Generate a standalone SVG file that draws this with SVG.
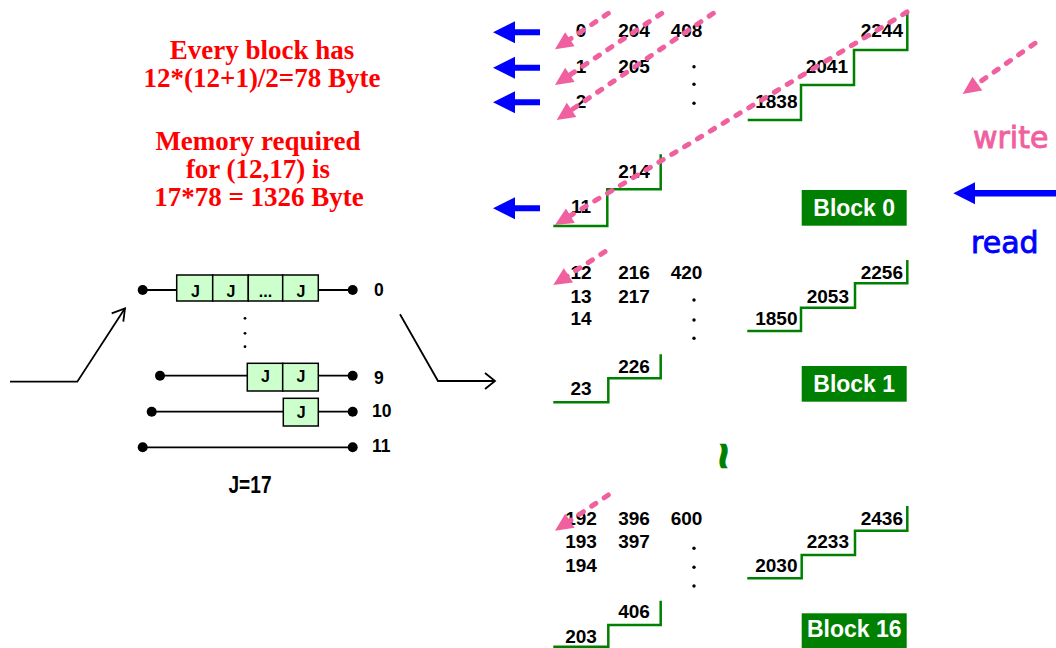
<svg xmlns="http://www.w3.org/2000/svg" width="1056" height="648" viewBox="0 0 1056 648">
<defs>
<style>
.red{font-family:"Liberation Serif","Times New Roman",serif;font-weight:bold;font-size:27px;fill:#FF0000;text-anchor:middle}
.num{font-family:"Liberation Sans",Arial,sans-serif;font-weight:bold;font-size:19px;fill:#000}
.c{text-anchor:middle}
.e{text-anchor:end}
.stair{fill:none;stroke:#008000;stroke-width:2.5}
.blk{fill:#008000}
.blkt{font-family:"Liberation Sans",Arial,sans-serif;font-weight:bold;font-size:23px;fill:#FFFFFF;text-anchor:middle}
.wr{fill:none;stroke:#F0609E;stroke-width:5;stroke-dasharray:5 10;stroke-linecap:round;marker-end:url(#wh)}
.box{fill:#CCFFCC;stroke:#000;stroke-width:1.5}
.wire{stroke:#000;stroke-width:1.8;fill:none}
.jt{font-family:"Liberation Sans",Arial,sans-serif;font-weight:bold;font-size:16px;text-anchor:middle}
.lbl{font-family:"Liberation Sans",Arial,sans-serif;font-weight:bold;font-size:17.5px}
.leg{font-family:"DejaVu Sans",Verdana,sans-serif;font-size:30px;stroke-width:0.9}
</style>
<marker id="wh" markerUnits="userSpaceOnUse" markerWidth="22" markerHeight="20" viewBox="-12 -10 22 20" refX="0" refY="0" orient="auto">
<path d="M8,0 L-10,-8.5 L-10,8.5 z" fill="#F0609E"/>
</marker>
<path id="ba" d="M0,0 L22,-11 L22,-3 L47,-3 L47,3 L22,3 L22,11 z" fill="#0000FF"/>
</defs>
<rect width="1056" height="648" fill="#FFFFFF"/>

<g id="info-text">
<text class="red" x="262" y="59">Every block has</text>
<text class="red" x="262" y="87">12*(12+1)/2=78 Byte</text>
<text class="red" x="258" y="150">Memory required</text>
<text class="red" x="258" y="178">for (12,17) is</text>
<text class="red" x="259" y="206">17*78 = 1326 Byte</text>
</g>

<g id="delay-lines">
<g id="line-0">
<line class="wire" x1="142.7" y1="290" x2="352.7" y2="290"/>
<rect class="box" x="176.7" y="275" width="36" height="26"/>
<rect class="box" x="212.7" y="275" width="35.6" height="26"/>
<rect class="box" x="248.3" y="275" width="34.4" height="26"/>
<rect class="box" x="282.7" y="275" width="35.6" height="26"/>
<text class="jt" x="195.5" y="296.5">J</text>
<text class="jt" x="231" y="296.5">J</text>
<text class="jt" x="265.5" y="296.5">...</text>
<text class="jt" x="301" y="296.5">J</text>
<circle cx="142.7" cy="290" r="5"/>
<circle cx="352.7" cy="290" r="5"/>
<text class="lbl" x="374" y="295.8">0</text>
</g>
<g id="vdots">
<circle cx="245" cy="318.3" r="1.4"/>
<circle cx="245" cy="333.3" r="1.4"/>
<circle cx="245" cy="346.7" r="1.4"/>
</g>
<g id="line-9">
<line class="wire" x1="160" y1="375.7" x2="352.7" y2="375.7"/>
<rect class="box" x="247.3" y="363.3" width="35.4" height="27.7"/>
<rect class="box" x="282.7" y="363.3" width="35.6" height="27.7"/>
<text class="jt" x="265.5" y="382.3">J</text>
<text class="jt" x="301" y="382.3">J</text>
<circle cx="160" cy="375.7" r="5"/>
<circle cx="352.7" cy="375.7" r="5"/>
<text class="lbl" x="374" y="383.5">9</text>
</g>
<g id="line-10">
<line class="wire" x1="151.7" y1="411.7" x2="352.7" y2="411.7"/>
<rect class="box" x="283.3" y="398.3" width="35" height="27.7"/>
<text class="jt" x="301.3" y="418.3">J</text>
<circle cx="151.7" cy="411.7" r="5"/>
<circle cx="352.7" cy="411.7" r="5"/>
<text class="lbl" x="372" y="417">10</text>
</g>
<g id="line-11">
<line class="wire" x1="142.7" y1="447.3" x2="352.7" y2="447.3"/>
<circle cx="142.7" cy="447.3" r="5"/>
<circle cx="352.7" cy="447.3" r="5"/>
<text class="lbl" x="372" y="452">11</text>
</g>
<text x="250" y="493" font-family="Liberation Sans, Arial, sans-serif" font-weight="bold" font-size="24" text-anchor="middle" textLength="43" lengthAdjust="spacingAndGlyphs">J=17</text>
</g>

<g id="block-0">
<polyline class="stair" points="553.3,226 607.3,226 607.3,189.3 660.7,189.3 660.7,154.3"/>
<polyline class="stair" points="747.7,120 801,120 801,85 854,85 854,50 907.3,50 907.3,13.3"/>
<text class="num c" x="581" y="37.3">0</text>
<text class="num c" x="581" y="72.7">1</text>
<text class="num c" x="581" y="108.3">2</text>
<text class="num c" x="581" y="213.3">11</text>
<text class="num c" x="634" y="37.3">204</text>
<text class="num c" x="634" y="72.7">205</text>
<text class="num c" x="634" y="178.3">214</text>
<text class="num c" x="686.5" y="37.3">408</text>
<circle cx="694" cy="66.7" r="1.7"/>
<circle cx="694" cy="84.3" r="1.7"/>
<circle cx="694" cy="103.3" r="1.7"/>
<text class="num e" x="903" y="37.3">2244</text>
<text class="num e" x="848" y="72.7">2041</text>
<text class="num e" x="797.5" y="108.3">1838</text>
<rect class="blk" x="801.7" y="190" width="105" height="35.7"/>
<text class="blkt" x="854.2" y="215.5">Block 0</text>
</g>

<g id="block-1">
<polyline class="stair" points="553.3,402.3 608.3,402.3 608.3,378.3 660.7,378.3 660.7,354.3"/>
<polyline class="stair" points="747.3,331 801,331 801,307.7 855,307.7 855,283.3 907.3,283.3 907.3,260"/>
<text class="num c" x="581" y="278.5">12</text>
<text class="num c" x="581" y="303">13</text>
<text class="num c" x="581" y="325">14</text>
<text class="num c" x="581" y="395">23</text>
<text class="num c" x="634" y="278.5">216</text>
<text class="num c" x="634" y="303">217</text>
<text class="num c" x="634" y="372.7">226</text>
<text class="num c" x="686.5" y="278.5">420</text>
<circle cx="694" cy="300" r="1.7"/>
<circle cx="694" cy="320" r="1.7"/>
<circle cx="694" cy="338.3" r="1.7"/>
<text class="num e" x="903" y="278.5">2256</text>
<text class="num e" x="849" y="302.8">2053</text>
<text class="num e" x="797.5" y="325">1850</text>
<rect class="blk" x="801.7" y="366" width="105" height="35.7"/>
<text class="blkt" x="854.2" y="391.7">Block 1</text>
</g>

<g id="ellipsis">
<text x="724" y="472" transform="rotate(90 724 456)" font-family="Liberation Sans, Arial, sans-serif" font-weight="bold" font-size="46" fill="#008000" stroke="#008000" stroke-width="1.2" text-anchor="middle">~</text>
</g>

<g id="block-16">
<polyline class="stair" points="553.3,646.7 608.3,646.7 608.3,625 660.7,625 660.7,600.7"/>
<polyline class="stair" points="747.3,578.3 801.7,578.3 801.7,555 855,555 855,530.7 907.3,530.7 907.3,506"/>
<text class="num c" x="581" y="525">192</text>
<text class="num c" x="581" y="548.3">193</text>
<text class="num c" x="581" y="571.7">194</text>
<text class="num c" x="581" y="643.3">203</text>
<text class="num c" x="634" y="525">396</text>
<text class="num c" x="634" y="548.3">397</text>
<text class="num c" x="634" y="618.3">406</text>
<text class="num c" x="686.5" y="525">600</text>
<circle cx="694" cy="548.3" r="1.7"/>
<circle cx="694" cy="567.3" r="1.7"/>
<circle cx="694" cy="586" r="1.7"/>
<text class="num e" x="903" y="525">2436</text>
<text class="num e" x="849" y="548.3">2233</text>
<text class="num e" x="797.5" y="571.7">2030</text>
<rect class="blk" x="801.7" y="613.3" width="105" height="35.7"/>
<text class="blkt" x="854.2" y="637">Block 16</text>
</g>

<g id="legend">
<line class="wr" x1="1035" y1="43.3" x2="969.2" y2="89.4"/>
<text class="leg" x="973" y="148.3" fill="#F0609E" stroke="#F0609E">write</text>
<path d="M953.3,193.3 L975,182.3 L975,190 L1056,190 L1056,196.6 L975,196.6 L975,204.3 z" fill="#0000FF"/>
<text class="leg" x="971" y="253.3" fill="#0000FF" stroke="#0000FF">read</text>
</g>

<g id="connectors">
<polyline class="wire" points="10,381.7 77.3,381.7 125,308.3"/>
<polyline class="wire" points="111.7,313.3 125,308.3 123.3,321.7"/>
<polyline class="wire" points="400,314.3 438,381 495,381"/>
<polyline class="wire" points="485,373 495,381 485,389"/>
<use href="#ba" x="493" y="32.3"/>
<use href="#ba" x="493" y="67.7"/>
<use href="#ba" x="493" y="102.3"/>
<use href="#ba" x="493" y="208.3"/>
<line class="wr" x1="608.3" y1="13.3" x2="561.6" y2="44.8"/>
<line class="wr" x1="661.7" y1="13.3" x2="561.6" y2="80.5"/>
<line class="wr" x1="713.3" y1="13.3" x2="563.3" y2="115.5"/>
<line class="wr" x1="907" y1="12" x2="561.8" y2="220.9"/>
<line class="wr" x1="605" y1="251.7" x2="560" y2="280.7"/>
<line class="wr" x1="608.3" y1="495" x2="561.6" y2="526.3"/>
</g>
</svg>
